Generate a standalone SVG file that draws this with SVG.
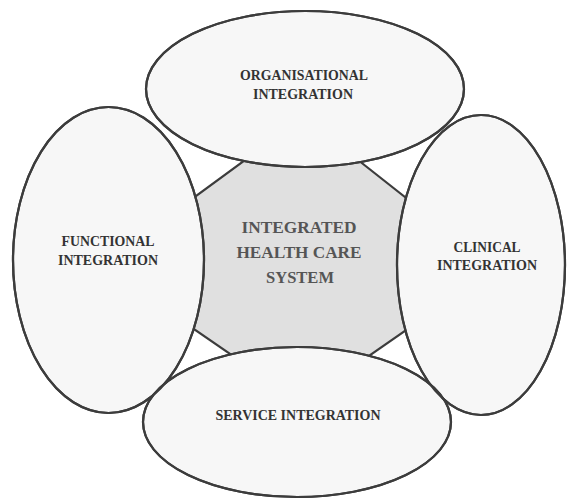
<svg xmlns="http://www.w3.org/2000/svg" width="569" height="499" viewBox="0 0 569 499">
<style>
.el{fill:#f7f7f7;stroke:#3c3c3c;stroke-width:2.2}
.ol{fill:none;stroke:#3c3c3c;stroke-width:2.2}
.core{fill:#e0e0e0;stroke:#3c3c3c;stroke-width:2.2}
.t{font-family:"Liberation Serif","Times New Roman",serif;font-weight:bold;font-size:15px;fill:#333;text-anchor:middle}
.c{font-family:"Liberation Serif","Times New Roman",serif;font-weight:bold;font-size:16px;fill:#555;text-anchor:middle}
</style>
<rect width="569" height="499" fill="#fff"/>
<g id="core">
<polygon class="core" points="245,160 358,160 415,205 415,324 356,365 246,365 185,323 185,204"/>
<text class="c" x="299" y="233" textLength="115" lengthAdjust="spacingAndGlyphs">INTEGRATED</text>
<text class="c" x="299" y="258" textLength="125" lengthAdjust="spacingAndGlyphs">HEALTH CARE</text>
<text class="c" x="300" y="283" textLength="68" lengthAdjust="spacingAndGlyphs">SYSTEM</text>
</g>
<g id="functional">
<ellipse class="el" cx="108.5" cy="260" rx="95.5" ry="153"/>
<text class="t" x="108" y="246" textLength="93" lengthAdjust="spacingAndGlyphs">FUNCTIONAL</text>
<text class="t" x="108" y="265" textLength="100" lengthAdjust="spacingAndGlyphs">INTEGRATION</text>
</g>
<g id="clinical">
<ellipse class="el" cx="481" cy="265" rx="84" ry="150"/>
<text class="t" x="487" y="252" textLength="67" lengthAdjust="spacingAndGlyphs">CLINICAL</text>
<text class="t" x="487" y="270" textLength="100" lengthAdjust="spacingAndGlyphs">INTEGRATION</text>
</g>
<g id="organisational">
<ellipse class="el" cx="305" cy="89" rx="159" ry="78"/>
<text class="t" x="304" y="80" textLength="128" lengthAdjust="spacingAndGlyphs">ORGANISATIONAL</text>
<text class="t" x="303" y="99" textLength="100" lengthAdjust="spacingAndGlyphs">INTEGRATION</text>
</g>
<g id="service">
<ellipse class="el" cx="297" cy="422" rx="154" ry="75"/>
<text class="t" x="298" y="420" textLength="165" lengthAdjust="spacingAndGlyphs">SERVICE INTEGRATION</text>
</g>
<g id="outlines">
<ellipse class="ol" cx="108.5" cy="260" rx="95.5" ry="153"/>
<ellipse class="ol" cx="481" cy="265" rx="84" ry="150"/>
<ellipse class="ol" cx="305" cy="89" rx="159" ry="78"/>
<ellipse class="ol" cx="297" cy="422" rx="154" ry="75"/>
</g>
</svg>
